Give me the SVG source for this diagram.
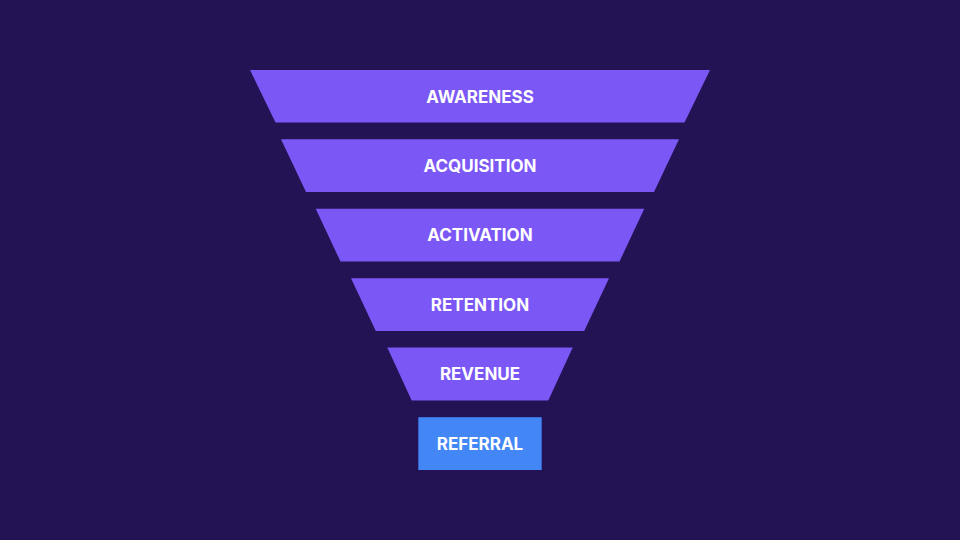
<svg xmlns="http://www.w3.org/2000/svg" width="960" height="540" viewBox="0 0 960 540">
<style>
.stage{fill:#7b57f5}
.ref{fill:#4287f5}
.lbl{font-family:Inter,"Open Sans","Liberation Sans",sans-serif;font-weight:700;font-size:17px;fill:#ffffff;text-anchor:middle}
</style>
<rect width="960" height="540" fill="#241354"/>
<g id="awareness"><polygon class="stage" points="250,70 710,70 684.5,122.5 275.5,122.5"/><text class="lbl" x="480" y="102.5">AWARENESS</text></g>
<g id="acquisition"><polygon class="stage" points="281,139.3 679,139.3 654,192 306,192"/><text class="lbl" x="480" y="171.8">ACQUISITION</text></g>
<g id="activation"><polygon class="stage" points="315.7,208.7 644.3,208.7 619.5,261.5 340.5,261.5"/><text class="lbl" x="480" y="241.3">ACTIVATION</text></g>
<g id="retention"><polygon class="stage" points="351,278.2 609,278.2 584.2,331 375.8,331"/><text class="lbl" x="480" y="310.8">RETENTION</text></g>
<g id="revenue"><polygon class="stage" points="387.3,347.6 572.7,347.6 548.3,400.5 411.7,400.5"/><text class="lbl" x="480" y="380.3">REVENUE</text></g>
<g id="referral"><rect class="ref" x="418.3" y="417.2" width="123.4" height="52.8"/><text class="lbl" x="480" y="449.8">REFERRAL</text></g>
<g id="connectors"></g>
</svg>
